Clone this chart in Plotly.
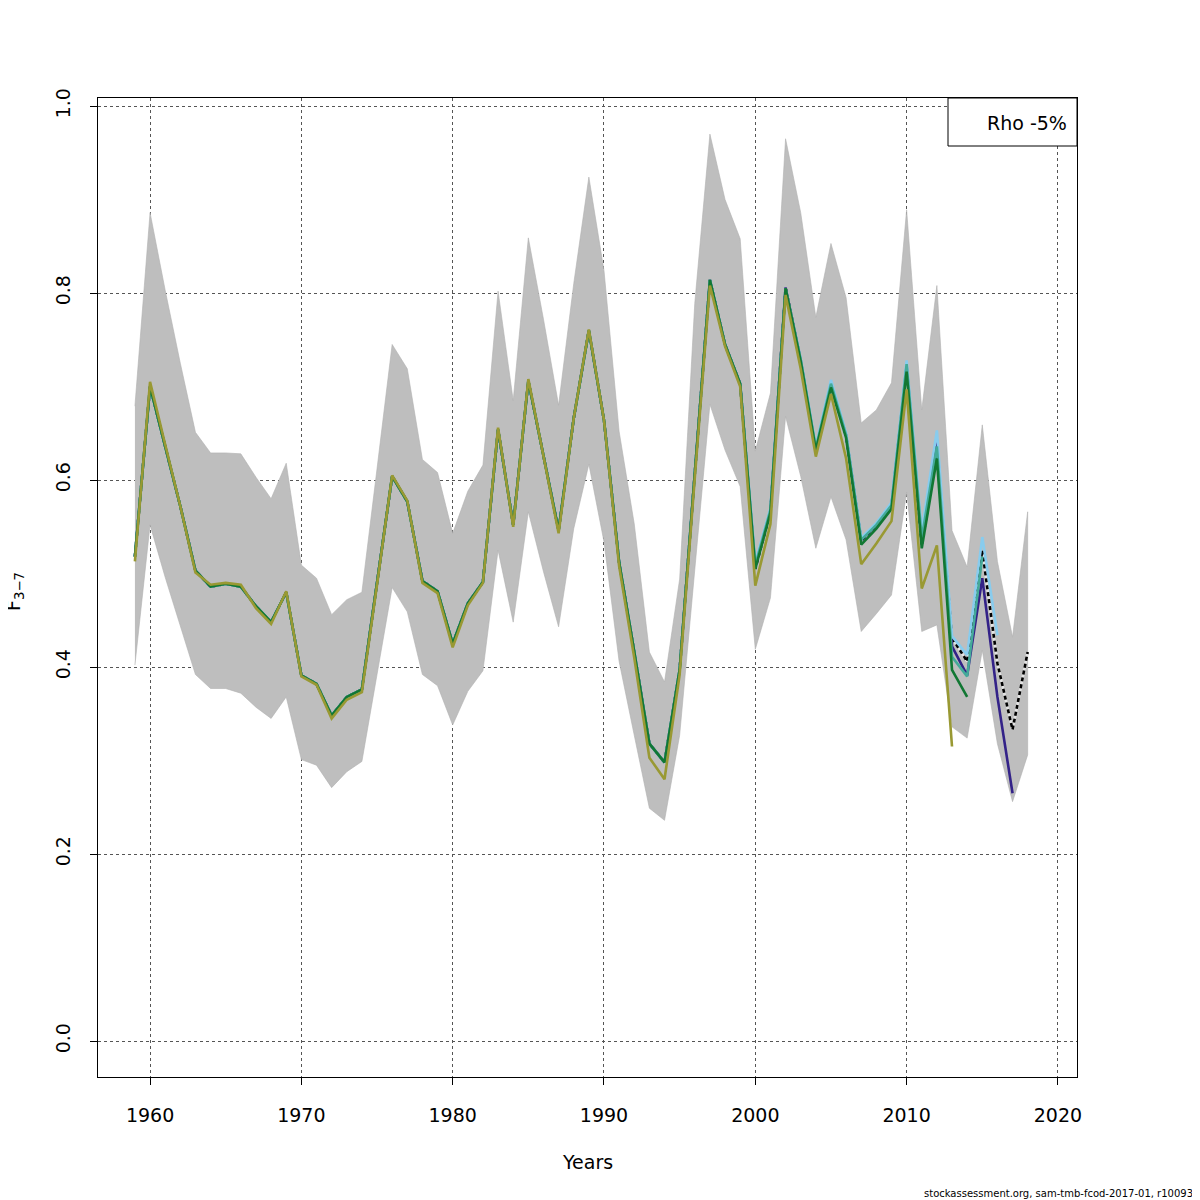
import plotly.graph_objects as go

years = list(range(1959, 2019))

# common F-bar history 1959-1999 (all retro runs overlap here)
f_hist = [0.518, 0.700, 0.636, 0.572, 0.503, 0.486, 0.489, 0.486, 0.465, 0.448,
          0.480, 0.391, 0.382, 0.348, 0.368, 0.376, 0.490, 0.604, 0.577, 0.492,
          0.481, 0.425, 0.468, 0.491, 0.654, 0.552, 0.706, 0.626, 0.546, 0.666,
          0.760, 0.664, 0.512, 0.416, 0.318, 0.298, 0.397, 0.607, 0.814, 0.745,
          0.703]

# run-specific values from 2000 onward
base_tail = [0.505, 0.566, 0.806, 0.728, 0.632, 0.702, 0.647, 0.535, 0.551, 0.572,
             0.720, 0.530, 0.630, 0.431, 0.406, 0.525, 0.404, 0.333, 0.416]
peel1_tail = [0.507, 0.567, 0.806, 0.728, 0.633, 0.704, 0.648, 0.536, 0.552, 0.573,
              0.722, 0.535, 0.642, 0.422, 0.391, 0.495, 0.368, 0.265]
peel2_tail = [0.512, 0.570, 0.804, 0.730, 0.636, 0.707, 0.650, 0.538, 0.554, 0.576,
              0.728, 0.545, 0.653, 0.433, 0.413, 0.539, 0.434]
peel3_tail = [0.509, 0.568, 0.805, 0.729, 0.634, 0.703, 0.648, 0.536, 0.552, 0.573,
              0.724, 0.538, 0.636, 0.411, 0.390, 0.518]
peel4_tail = [0.505, 0.565, 0.805, 0.727, 0.632, 0.699, 0.645, 0.531, 0.548, 0.569,
              0.716, 0.527, 0.623, 0.397, 0.368]

# last peel (olive) deviates slightly along the whole series
peel5 = [0.513, 0.705, 0.638, 0.572, 0.501, 0.488, 0.490, 0.488, 0.463, 0.446,
         0.481, 0.390, 0.381, 0.345, 0.365, 0.373, 0.488, 0.605, 0.578, 0.490,
         0.479, 0.421, 0.466, 0.490, 0.656, 0.550, 0.708, 0.626, 0.543, 0.666,
         0.761, 0.664, 0.508, 0.410, 0.303, 0.280, 0.392, 0.602, 0.808, 0.743,
         0.700, 0.487, 0.553, 0.798, 0.719, 0.625, 0.692, 0.623, 0.510, 0.532,
         0.556, 0.697, 0.484, 0.530, 0.315]

band_high = [0.679, 0.886, 0.803, 0.725, 0.651, 0.629, 0.629, 0.628, 0.603, 0.580,
             0.618, 0.509, 0.495, 0.456, 0.472, 0.480, 0.612, 0.745, 0.719, 0.622,
             0.608, 0.543, 0.588, 0.616, 0.802, 0.685, 0.859, 0.772, 0.680, 0.810,
             0.924, 0.824, 0.652, 0.553, 0.416, 0.384, 0.494, 0.789, 0.970, 0.900,
             0.858, 0.631, 0.693, 0.965, 0.886, 0.774, 0.853, 0.795, 0.661, 0.675,
             0.704, 0.889, 0.675, 0.808, 0.546, 0.507, 0.659, 0.513, 0.432, 0.566]
band_low = [0.402, 0.552, 0.496, 0.444, 0.392, 0.377, 0.377, 0.372, 0.357, 0.345,
            0.368, 0.301, 0.295, 0.271, 0.288, 0.299, 0.390, 0.485, 0.459, 0.392,
            0.380, 0.338, 0.374, 0.396, 0.525, 0.448, 0.566, 0.502, 0.443, 0.548,
            0.617, 0.534, 0.406, 0.327, 0.249, 0.236, 0.327, 0.504, 0.681, 0.632,
            0.593, 0.419, 0.474, 0.668, 0.604, 0.527, 0.582, 0.536, 0.438, 0.457,
            0.477, 0.587, 0.438, 0.445, 0.336, 0.324, 0.418, 0.318, 0.256, 0.306]

x_ticks = [1960, 1970, 1980, 1990, 2000, 2010, 2020]
y_ticks = [0.0, 0.2, 0.4, 0.6, 0.8, 1.0]
y_ticklabels = ["0.0", "0.2", "0.4", "0.6", "0.8", "1.0"]
rho_label = "Rho -5%"

FONT = "DejaVu Sans"

# page has an 8px body margin; figure is sized so that the plot lands where the
# reference has it (plot area 98..1077 px in page coordinates)
W = H = 1192
PL, PT = 90, 90
PW = PH = 979


def px(xp):
    return (xp - 8 - PL) / PW


def py(yp):
    return (PT + PH - (yp - 8)) / PH


fig = go.Figure()

# confidence band
fig.add_trace(go.Scatter(x=years + years[::-1], y=band_high + band_low[::-1],
                         fill="toself", fillcolor="#BEBEBE", mode="lines",
                         line=dict(width=0.6, color="#B0B0B0"),
                         hoverinfo="skip", showlegend=False))

base = f_hist + base_tail
# light underlay so the dashed base run shows light gaps as in the reference
fig.add_trace(go.Scatter(x=years, y=base, mode="lines",
                         line=dict(color="#E4E4E4", width=2.6),
                         hoverinfo="skip", showlegend=False))

runs = [
    (base, "#000000", "4px,3px"),
    (f_hist + peel1_tail, "#332288", "solid"),
    (f_hist + peel2_tail, "#88CCEE", "solid"),
    (f_hist + peel3_tail, "#44AA99", "solid"),
    (f_hist + peel4_tail, "#117733", "solid"),
    (peel5, "#999933", "solid"),
]
for vals, col, dash in runs:
    fig.add_trace(go.Scatter(x=years[:len(vals)], y=vals, mode="lines",
                             line=dict(color=col, width=2.6, dash=dash),
                             showlegend=False))

axis_common = dict(showline=True, linecolor="black", linewidth=1, mirror=True,
                   ticks="outside", ticklen=7, tickcolor="black", tickwidth=1,
                   showgrid=True, gridcolor="#555555", griddash="dot", gridwidth=1,
                   zeroline=False, tickfont=dict(family=FONT, size=19, color="black"))

fig.update_layout(
    width=W, height=H,
    margin=dict(l=PL, r=W - PL - PW, t=PT, b=H - PT - PH, autoexpand=False),
    paper_bgcolor="white", plot_bgcolor="white",
    font=dict(family=FONT, color="black"),
    xaxis=dict(range=[1956.56, 2021.26], tickvals=x_ticks, ticklabelstandoff=14,
               **axis_common),
    yaxis=dict(range=[-0.0385, 1.0086], tickvals=y_ticks, ticktext=y_ticklabels,
               tickangle=-90, ticklabelstandoff=12, **axis_common),
    shapes=[
        dict(type="rect", xref="paper", yref="paper",
             x0=px(948), x1=1.0, y0=py(146), y1=1.0,
             line=dict(color="black", width=1), fillcolor="white", layer="above"),
        # overbar of the F in the y-axis title (drawn rotated, i.e. vertical)
        dict(type="line", xref="paper", yref="paper",
             x0=px(2.5), x1=px(2.5), y0=py(606), y1=py(618),
             line=dict(color="black", width=1.3)),
    ],
    annotations=[
        dict(text=rho_label, xref="paper", yref="paper", x=px(1027),
             y=py(123), xanchor="center", yanchor="middle",
             showarrow=False, font=dict(family=FONT, size=19)),
        dict(text="Years", xref="paper", yref="paper", x=0.5,
             y=py(1162), xanchor="center", yanchor="middle",
             showarrow=False, font=dict(family=FONT, size=19)),
        dict(text="F<sub>3\u22127</sub>", xref="paper", yref="paper",
             x=px(14), y=py(592), xanchor="center",
             yanchor="middle", textangle=-90, showarrow=False,
             font=dict(family=FONT, size=19)),
        dict(text="stockassessment.org, sam-tmb-fcod-2017-01, r10093",
             xref="paper", yref="paper", x=px(1195),
             y=py(1193), xanchor="right", yanchor="middle",
             showarrow=False, font=dict(family=FONT, size=10)),
    ],
)

fig.write_html("out.html")
